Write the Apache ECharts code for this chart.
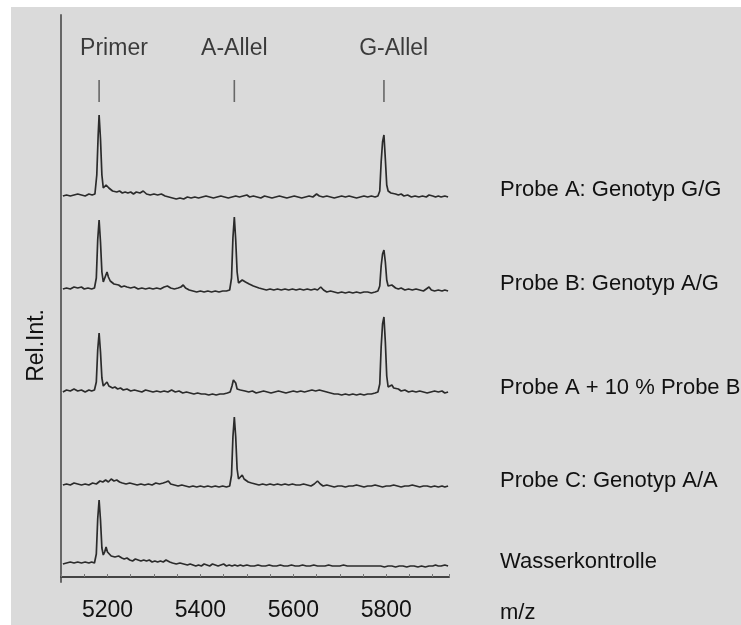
<!DOCTYPE html>
<html>
<head>
<meta charset="utf-8">
<script src="https://cdn.jsdelivr.net/npm/echarts@6/dist/echarts.min.js"></script>
<style>
html,body{margin:0;padding:0;background:#fff;}
#wrap{position:relative;width:741px;height:625px;background:#fff;overflow:hidden;}
#bg{position:absolute;left:11px;top:7px;right:0;bottom:0;background:#dadada;}
#c{position:absolute;left:0;top:0;width:741px;height:625px;}
</style>
</head>
<body>
<div id="wrap"><div id="bg"></div><div id="c"></div></div>
<script>
// ---- data ----
const xMin = 5100, xMax = 5935, xTickStep = 50;
const tickLabels = [5200, 5400, 5600, 5800];
const traceNames = ['Probe A: Genotyp G/G', 'Probe B: Genotyp A/G', 'Probe A + 10 % Probe B', 'Probe C: Genotyp A/A', 'Wasserkontrolle'];
const markerNames = ['Primer', 'A-Allel', 'G-Allel'];
const markerMz = [5182, 5473, 5795];
const markerLabelMz = [5214, 5473, 5816];
const axisNameY = 'Rel.Int.';
const axisNameX = 'm/z';

const probeA = [[5104,1],[5112,2],[5120,1],[5128,2],[5136,3],[5144,2],[5152,1],[5160,3],[5167,2],[5173,3],[5177,22],[5180,62],[5182,82],[5185,58],[5188,22],[5191,9],[5194,8],[5197,12],[5200,14],[5203,9],[5207,10],[5211,6],[5215,8],[5220,5],[5226,6],[5232,4],[5238,5],[5244,4],[5250,5],[5256,3],[5262,5],[5270,4],[5277,6],[5284,3],[5292,2],[5300,3],[5308,2],[5316,3],[5324,1],[5332,0],[5340,-1],[5348,-2],[5356,-1],[5364,-2],[5372,0],[5380,-1],[5388,0],[5396,-1],[5404,0],[5412,1],[5420,0],[5428,-1],[5436,0],[5444,1],[5452,0],[5460,-1],[5468,0],[5476,1],[5484,0],[5492,1],[5500,2],[5506,0],[5514,1],[5522,0],[5530,-1],[5538,1],[5546,0],[5554,-1],[5562,0],[5570,1],[5578,0],[5586,-1],[5594,0],[5602,1],[5610,0],[5618,-1],[5626,0],[5634,1],[5642,0],[5650,3],[5656,1],[5664,0],[5672,1],[5680,0],[5688,-1],[5696,0],[5704,1],[5712,0],[5720,1],[5728,0],[5736,-1],[5744,0],[5752,1],[5760,0],[5768,1],[5776,0],[5782,1],[5786,6],[5789,35],[5792,55],[5795,62],[5798,38],[5801,12],[5804,6],[5807,7],[5810,4],[5814,5],[5820,3],[5826,2],[5832,3],[5838,1],[5846,2],[5854,0],[5862,1],[5870,0],[5878,1],[5886,0],[5892,2],[5896,3],[5900,1],[5906,0],[5912,1],[5918,0],[5926,1],[5933,0]];

const probeB = [[5104,1],[5112,2],[5120,1],[5128,3],[5136,2],[5144,3],[5150,1],[5158,2],[5166,1],[5172,2],[5176,12],[5179,50],[5182,70],[5185,48],[5188,18],[5191,8],[5195,10],[5199,18],[5202,13],[5206,9],[5210,10],[5214,6],[5218,7],[5224,5],[5230,3],[5236,4],[5242,3],[5250,2],[5258,3],[5266,1],[5274,2],[5282,1],[5290,2],[5298,1],[5306,2],[5314,1],[5322,3],[5329,4],[5336,2],[5344,1],[5352,2],[5358,3],[5363,5],[5368,2],[5376,0],[5384,-1],[5392,-2],[5400,-1],[5408,-2],[5416,-1],[5424,-2],[5432,-1],[5440,-2],[5448,-1],[5456,-1],[5463,0],[5467,12],[5470,52],[5473,73],[5476,50],[5479,18],[5482,7],[5486,6],[5490,10],[5493,12],[5497,8],[5501,9],[5505,6],[5509,7],[5514,4],[5520,3],[5526,2],[5534,1],[5542,0],[5550,1],[5558,0],[5566,1],[5574,0],[5582,1],[5590,0],[5598,1],[5606,0],[5614,1],[5622,0],[5630,1],[5638,0],[5646,1],[5652,0],[5659,3],[5665,0],[5672,-2],[5680,-1],[5688,-2],[5696,-3],[5704,-2],[5712,-3],[5720,-2],[5728,-3],[5736,-2],[5744,-3],[5752,-2],[5760,-2],[5768,-3],[5776,-2],[5782,-1],[5786,4],[5789,24],[5792,36],[5795,40],[5798,28],[5801,10],[5804,4],[5808,3],[5812,5],[5816,4],[5820,2],[5826,1],[5832,2],[5840,0],[5848,1],[5856,0],[5864,1],[5872,0],[5880,-1],[5886,1],[5892,3],[5897,0],[5904,-1],[5912,0],[5920,-1],[5926,0],[5933,-1]];

const probeMix = [[5104,0],[5112,2],[5120,1],[5128,3],[5136,1],[5144,2],[5152,0],[5160,2],[5166,1],[5172,2],[5176,10],[5179,42],[5182,59],[5185,40],[5188,14],[5191,6],[5195,7],[5199,10],[5203,6],[5207,7],[5211,4],[5216,5],[5222,3],[5228,4],[5234,2],[5242,3],[5250,1],[5258,2],[5266,1],[5274,0],[5282,2],[5290,1],[5298,0],[5306,1],[5314,0],[5322,1],[5330,0],[5338,2],[5346,0],[5354,1],[5362,-1],[5370,0],[5378,-1],[5386,-2],[5394,-1],[5402,-2],[5410,-2],[5418,-3],[5426,-2],[5434,-3],[5442,-2],[5450,-2],[5458,-1],[5464,0],[5468,6],[5471,12],[5473,14],[5476,9],[5479,3],[5482,1],[5486,2],[5490,0],[5496,1],[5504,0],[5512,1],[5520,-1],[5528,0],[5536,1],[5544,0],[5552,-1],[5560,0],[5568,1],[5576,0],[5584,-1],[5592,0],[5600,1],[5608,0],[5616,1],[5624,0],[5632,1],[5640,2],[5648,1],[5656,2],[5664,1],[5672,0],[5680,-1],[5688,-2],[5696,-2],[5704,-3],[5712,-2],[5720,-3],[5728,-2],[5736,-3],[5744,-2],[5752,-3],[5760,-2],[5768,-2],[5776,-1],[5782,0],[5786,8],[5789,45],[5792,68],[5795,75],[5798,50],[5801,16],[5804,5],[5808,4],[5812,7],[5816,4],[5820,2],[5826,3],[5832,1],[5840,2],[5848,0],[5856,1],[5864,0],[5872,1],[5880,0],[5888,-1],[5896,0],[5904,1],[5912,0],[5920,1],[5926,-1],[5933,0]];

const probeC = [[5104,0],[5112,1],[5120,0],[5128,2],[5136,1],[5144,0],[5152,1],[5160,0],[5168,2],[5176,1],[5184,4],[5190,3],[5196,5],[5202,3],[5208,6],[5214,4],[5220,5],[5226,3],[5232,2],[5240,1],[5248,2],[5256,1],[5264,0],[5272,1],[5280,0],[5288,1],[5296,0],[5304,2],[5312,1],[5320,2],[5326,3],[5331,4],[5336,1],[5344,0],[5352,-1],[5360,0],[5368,-1],[5376,-2],[5384,-1],[5392,-2],[5400,-1],[5408,-2],[5416,-1],[5424,-2],[5432,-1],[5440,-2],[5448,-1],[5456,-2],[5463,-1],[5467,10],[5470,48],[5473,68],[5476,48],[5479,16],[5482,6],[5486,7],[5490,10],[5494,6],[5498,5],[5503,3],[5510,2],[5518,1],[5526,0],[5534,1],[5542,0],[5550,1],[5558,0],[5566,1],[5574,0],[5582,1],[5590,0],[5598,1],[5606,0],[5614,0],[5622,1],[5630,0],[5638,-1],[5645,1],[5652,4],[5658,1],[5664,-1],[5672,0],[5680,-1],[5688,-2],[5696,-1],[5704,-1],[5712,-2],[5720,-1],[5728,-1],[5736,0],[5744,-1],[5752,-2],[5760,-1],[5768,-1],[5776,0],[5784,-1],[5792,-2],[5800,-1],[5808,-1],[5816,0],[5824,-1],[5832,-2],[5840,-1],[5848,-1],[5856,0],[5864,-1],[5872,-2],[5880,-1],[5888,-1],[5896,-2],[5904,-1],[5912,-2],[5920,-1],[5926,-2],[5933,-1]];

const water = [[5104,0],[5112,1],[5120,2],[5128,1],[5136,2],[5144,1],[5152,2],[5160,1],[5166,2],[5172,1],[5176,10],[5179,45],[5182,64],[5185,44],[5188,16],[5191,9],[5194,12],[5197,17],[5200,12],[5204,10],[5208,8],[5212,10],[5216,7],[5220,6],[5224,8],[5227,9],[5231,6],[5236,5],[5242,6],[5248,4],[5254,3],[5260,5],[5266,4],[5272,3],[5278,4],[5284,3],[5290,4],[5296,2],[5302,3],[5308,2],[5314,3],[5320,2],[5326,4],[5329,5],[5334,2],[5340,1],[5348,0],[5356,1],[5364,0],[5372,-1],[5378,0],[5384,-1],[5390,-2],[5396,-1],[5402,-2],[5408,0],[5414,-1],[5420,-2],[5426,0],[5432,-1],[5438,-2],[5444,-1],[5450,0],[5456,-2],[5462,-1],[5468,-2],[5474,-1],[5480,-2],[5486,-1],[5492,-2],[5500,-1],[5508,-2],[5516,-2],[5524,-1],[5532,-2],[5540,-2],[5548,-1],[5556,-2],[5564,-2],[5572,-1],[5580,-2],[5588,-2],[5596,-1],[5604,-2],[5612,-2],[5620,-1],[5628,-2],[5636,-2],[5644,-1],[5652,-2],[5660,-2],[5668,-2],[5676,-1],[5684,-2],[5692,-2],[5700,-2],[5708,-1],[5716,-2],[5724,-2],[5732,-2],[5740,-2],[5748,-2],[5756,-2],[5764,-2],[5772,-2],[5780,-2],[5788,-2],[5796,-3],[5804,-2],[5812,-2],[5820,-3],[5828,-2],[5836,-2],[5844,-3],[5852,-2],[5860,-2],[5868,-3],[5876,-2],[5884,-3],[5892,-2],[5900,-2],[5906,-1],[5912,-2],[5918,-2],[5926,-1],[5933,-2]];

const traces = [probeA, probeB, probeMix, probeC, water];

// ---- layout / style ----
const FONT = "'Liberation Sans', Arial, sans-serif";
const TXT = '#111111';
const LINE = '#2b2b2b';
const FS = 22;      // right-hand sample labels, m/z
const FS2 = 23;     // top labels, tick labels, y name
const gridLeft = 61, gridRight = 292;
const baselinePx = [197, 290, 392, 485, 564];
const labelOffsets = [[0, -7], [0, -7], [0, -4], [0, -5], [0, -4]];

const grids = [{ left: gridLeft, right: gridRight, top: 15, bottom: 43 }];
const xAxes = [{
  gridIndex: 0, type: 'value', min: xMin, max: xMax, interval: xTickStep, offset: -5,
  axisLine: { show: true, onZero: false, lineStyle: { color: '#444', width: 2 } },
  axisTick: { show: true, inside: true, length: 3, lineStyle: { color: '#777', width: 1 } },
  axisLabel: {
    margin: 22, fontSize: FS2, color: TXT, fontFamily: FONT,
    formatter: v => tickLabels.indexOf(v) >= 0 ? String(v) : ''
  },
  splitLine: { show: false }
}];
const yAxes = [{
  gridIndex: 0, type: 'value', min: 0, max: 1,
  axisLine: { show: true, onZero: false, lineStyle: { color: '#666', width: 2 } },
  axisTick: { show: false }, axisLabel: { show: false }, splitLine: { show: false }
}];
const series = [];

traces.forEach((d, i) => {
  const gi = i + 1;
  grids.push({ left: gridLeft, right: gridRight, top: baselinePx[i] - 90, height: 100 });
  xAxes.push({ gridIndex: gi, type: 'value', min: xMin, max: xMax, show: false });
  yAxes.push({ gridIndex: gi, type: 'value', min: -10, max: 90, show: false });
  series.push({
    type: 'line', name: traceNames[i], xAxisIndex: gi, yAxisIndex: gi, data: d,
    showSymbol: false, symbol: 'none', smooth: false,
    lineStyle: { color: LINE, width: 1.7 },
    endLabel: {
      show: true, formatter: '{a}', distance: 52, offset: labelOffsets[i],
      fontSize: FS, color: TXT, fontFamily: FONT
    },
    silent: true
  });
});

// header grid for allele markers
const hg = grids.length;
grids.push({ left: gridLeft, right: gridRight, top: 38, height: 64 });
xAxes.push({ gridIndex: hg, type: 'value', min: xMin, max: xMax, show: false });
yAxes.push({ gridIndex: hg, type: 'value', min: 0, max: 64, show: false });
series.push({
  type: 'scatter', xAxisIndex: hg, yAxisIndex: hg, symbol: 'rect', symbolSize: [1.6, 22],
  itemStyle: { color: '#4a4a4a' }, data: markerMz.map(m => [m, 11]), silent: true
});
series.push({
  type: 'scatter', xAxisIndex: hg, yAxisIndex: hg, symbolSize: 1,
  itemStyle: { color: 'rgba(0,0,0,0)' },
  label: { show: true, position: 'inside', formatter: p => markerNames[p.dataIndex],
    fontSize: FS2, color: TXT, fontFamily: FONT },
  data: markerLabelMz.map(m => [m, 53]), silent: true
});

const chart = echarts.init(document.getElementById('c'), null, { renderer: 'canvas' });
chart.setOption({
  animation: false,
  backgroundColor: 'transparent',
  grid: grids, xAxis: xAxes, yAxis: yAxes, series: series,
  graphic: [
    { type: 'text', left: 25, top: 309, rotation: Math.PI / 2, origin: [0, 0],
      style: { text: axisNameY, fontSize: FS2, fill: TXT, fontFamily: FONT } },
    { type: 'text', left: 500, top: 602,
      style: { text: axisNameX, fontSize: FS, fill: TXT, fontFamily: FONT } }
  ]
});
</script>
</body>
</html>
